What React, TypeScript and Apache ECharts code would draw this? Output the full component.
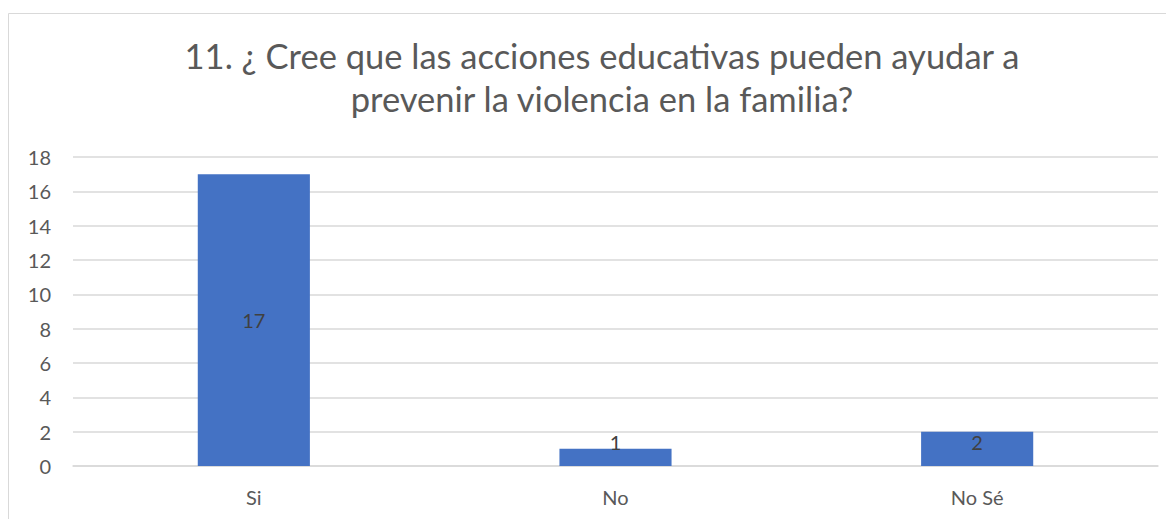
import React, { useEffect, useRef } from "react";
import * as echarts from "echarts";

const titleText = "11. ¿ Cree que las acciones educativas pueden ayudar a\nprevenir la violencia en la familia?";
const categories = ["Si", "No", "No Sé"];
const values = [17, 1, 2];
const yTicks = [0, 2, 4, 6, 8, 10, 12, 14, 16, 18];

const FONT = "Lato, 'Noto Sans', sans-serif";

export default function App() {
  const ref = useRef<HTMLDivElement>(null);
  useEffect(() => {
    if (!ref.current) return;
    const chart = echarts.init(ref.current, null, { renderer: "svg" });
    chart.setOption({
      animation: false,
      textStyle: { fontFamily: FONT },
      title: {
        text: titleText,
        left: 589,
        top: 21,
        textAlign: "center",
        textStyle: { fontFamily: FONT, fontSize: 34.5, fontWeight: "normal", color: "#595959", lineHeight: 43 },
      },
      graphic: [
        {
          type: "rect",
          shape: { x: 0.5, y: 5.5, width: 1400, height: 700 },
          style: { fill: "none", stroke: "#d9d9d9", lineWidth: 1 },
          silent: true,
          z: -1,
        },
      ],
      grid: { left: 65, right: 16, top: 149, bottom: 53 },
      xAxis: {
        type: "category",
        data: categories,
        axisLine: { show: true, lineStyle: { color: "#d9d9d9", width: 1.5 } },
        axisTick: { show: false },
        axisLabel: { color: "#595959", fontSize: 20, margin: 21, fontFamily: FONT },
      },
      yAxis: {
        type: "value",
        min: yTicks[0],
        max: yTicks[yTicks.length - 1],
        interval: 2,
        axisLine: { show: false },
        axisTick: { show: false },
        splitLine: { lineStyle: { color: "#d9d9d9", width: 1.5 } },
        axisLabel: { color: "#595959", fontSize: 20, margin: 22, fontFamily: FONT },
      },
      series: [
        {
          type: "bar",
          data: values.map((v, i) => ({
            value: v,
            label:
              i === 0
                ? { position: "inside" }
                : { position: "insideBottom", distance: 14 },
          })),
          barWidth: "31%",
          itemStyle: { color: "#4472C4" },
          label: { show: true, color: "#404040", fontSize: 20, fontFamily: FONT },
        },
      ],
    });
    return () => chart.dispose();
  }, []);
  return <div ref={ref} style={{ width: 1166, height: 511 }} />;
}
